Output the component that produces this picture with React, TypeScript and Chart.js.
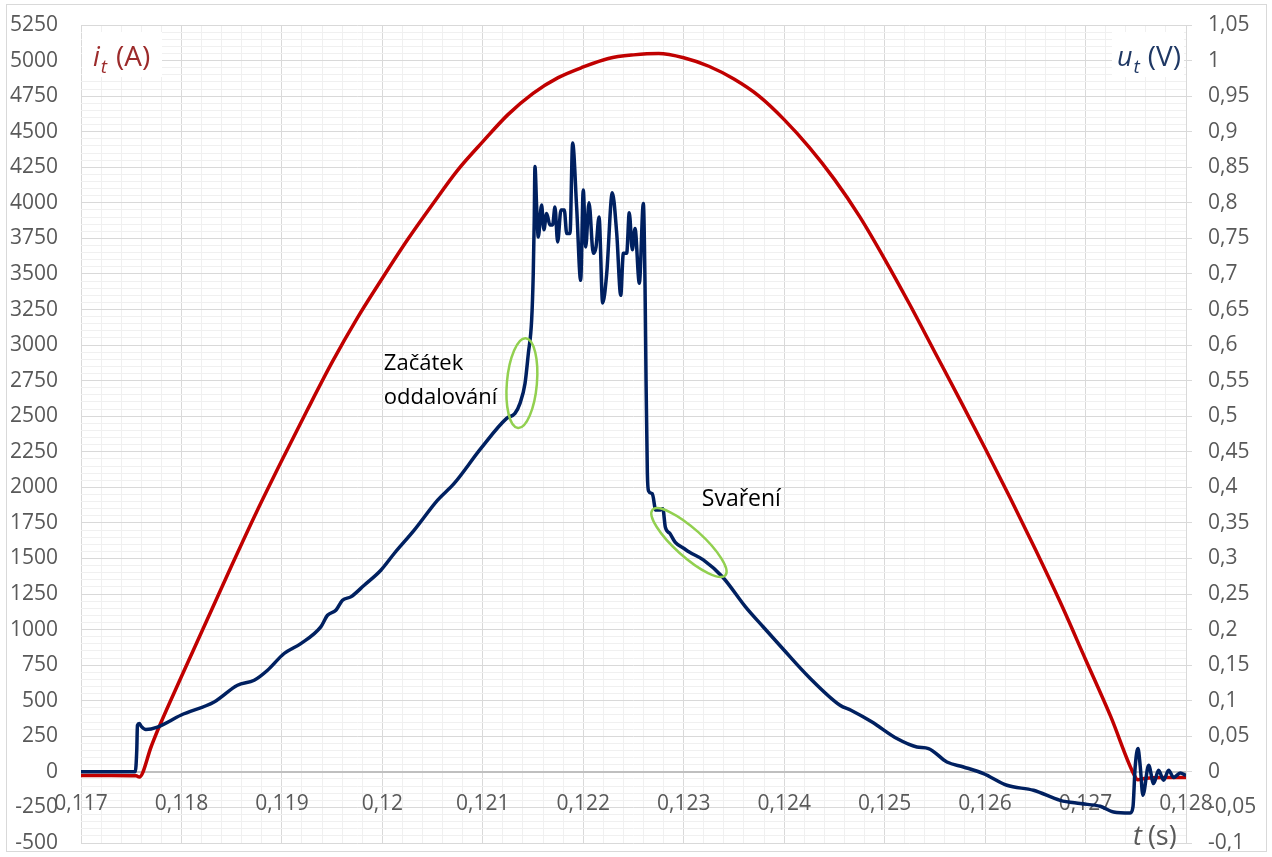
import React, { useEffect, useRef } from "react";
import { Chart, registerables } from "chart.js";

Chart.register(...registerables);

// ---- DATA ----
// Current i_t (A), left axis
const tCurrent = [
  0.117, 0.1173, 0.11755, 0.11758, 0.1177, 0.11775, 0.118, 0.11825, 0.1185, 0.11875,
  0.119, 0.11925, 0.1195, 0.11975, 0.12, 0.12025, 0.1205, 0.12075, 0.121, 0.12125,
  0.1215, 0.12175, 0.122, 0.12225, 0.1225, 0.12275, 0.123, 0.12325, 0.1235, 0.12375,
  0.124, 0.12425, 0.1245, 0.12475, 0.125, 0.12525, 0.1255, 0.12575, 0.126, 0.12625,
  0.1265, 0.12675, 0.127, 0.12725, 0.12749, 0.12752, 0.1276, 0.1278, 0.128,
];
const iCurrent = [
  -25, -25, -28, -36, 180, 270, 670, 1060, 1450, 1830,
  2190, 2540, 2880, 3190, 3470, 3740, 3990, 4230, 4430, 4620,
  4770, 4880, 4955, 5015, 5040, 5050, 5020, 4960, 4870, 4750,
  4585, 4390, 4165, 3905, 3605, 3285, 2950, 2615, 2275, 1925,
  1565, 1190, 790, 390, -30, -55, -45, -40, -40,
];

// Voltage u_t (V), right axis
const tVoltage = [
  0.117, 0.11754, 0.117555, 0.117562, 0.11758, 0.1176, 0.117645, 0.117761, 0.117993, 0.118325,
  0.118558, 0.118724, 0.118857, 0.119022, 0.119188, 0.119387, 0.119454, 0.119537, 0.119603, 0.119686,
  0.119819, 0.119985, 0.120118, 0.120317, 0.12055, 0.120715, 0.120981, 0.121237, 0.12132, 0.12137,
  0.12142, 0.121453, 0.121486, 0.121502, 0.121512, 0.121519, 0.121536, 0.121552, 0.121585, 0.121608,
  0.121635, 0.121668, 0.121695, 0.121718, 0.121745, 0.121778, 0.121811, 0.121835, 0.121868, 0.121894,
  0.121934, 0.121974, 0.122, 0.122024, 0.122057, 0.1221, 0.122127, 0.122157, 0.122193, 0.122233,
  0.122289, 0.122333, 0.122373, 0.122399, 0.122432, 0.122458, 0.122488, 0.122515, 0.122558, 0.122598,
  0.122615, 0.122625, 0.122638, 0.12265, 0.122687, 0.122722, 0.122757, 0.122792, 0.122817, 0.122863,
  0.122914, 0.123003, 0.123055, 0.123195, 0.123387, 0.123615, 0.12379, 0.124, 0.124245, 0.124556,
  0.124665, 0.124875, 0.125122, 0.125321, 0.125437, 0.12562, 0.125785, 0.125984, 0.126217, 0.126482,
  0.126748, 0.126947, 0.127146, 0.127279, 0.127445, 0.127472, 0.127494, 0.127522, 0.127545, 0.127571,
  0.127628, 0.127678, 0.127727, 0.127777, 0.127827, 0.127877, 0.127943, 0.128,
];
const uVoltage = [
  0, 0, 0.03, 0.0655, 0.068, 0.064, 0.0595, 0.063, 0.0796, 0.0983,
  0.1218, 0.1288, 0.1429, 0.1664, 0.1804, 0.2038, 0.2202, 0.2273, 0.2413, 0.246,
  0.2624, 0.2835, 0.307, 0.3398, 0.382, 0.4055, 0.4547, 0.497, 0.504, 0.518,
  0.546, 0.588, 0.635, 0.7, 0.776, 0.851, 0.794, 0.752, 0.797, 0.762,
  0.785, 0.769, 0.769, 0.794, 0.745, 0.79, 0.79, 0.757, 0.757, 0.884,
  0.794, 0.691, 0.818, 0.738, 0.8, 0.729, 0.738, 0.78, 0.659, 0.7,
  0.814, 0.757, 0.67, 0.729, 0.729, 0.786, 0.734, 0.764, 0.687, 0.799,
  0.682, 0.55, 0.42, 0.395, 0.391, 0.368, 0.368, 0.37, 0.344, 0.335,
  0.323, 0.314, 0.309, 0.298, 0.274, 0.232, 0.204, 0.171, 0.1335, 0.0937,
  0.0866, 0.07, 0.0468, 0.035, 0.0328, 0.0139, 0.0069, -0.0024, -0.0188, -0.0259,
  -0.04, -0.0446, -0.0484, -0.0564, -0.0578, -0.0494, 0.0069, 0.0328, 0.007, -0.0329,
  0.0093, -0.0165, 0.0023, -0.0118, 0.0023, -0.008, -0.0015, -0.005,
];

// X tick labels (drawn at the zero line, Czech decimal comma)
const xTickValues = [0.117, 0.118, 0.119, 0.12, 0.121, 0.122, 0.123, 0.124, 0.125, 0.126, 0.127, 0.128];
const xTickLabels = ["0,117", "0,118", "0,119", "0,12", "0,121", "0,122", "0,123", "0,124", "0,125", "0,126", "0,127", "0,128"];

// Annotations
const noteStart = ["Začátek", "oddalování"];
const noteWeld = "Svaření";

const FONT = '"Open Sans", "Noto Sans", sans-serif';
const GRAY = "#595959";

const overlay = {
  id: "overlay",
  beforeDatasetsDraw(chart: any) {
    const { ctx, chartArea, scales } = chart;
    const xs = scales.x;
    const yL = scales.yL;
    ctx.save();
    // x labels at zero line
    ctx.font = `21px ${FONT}`;
    ctx.fillStyle = GRAY;
    ctx.textAlign = "center";
    ctx.textBaseline = "middle";
    const y0 = yL.getPixelForValue(0);
    xTickValues.forEach((v, i) => {
      ctx.fillText(xTickLabels[i], xs.getPixelForValue(v), y0 + 32);
    });

    // i_t (A) label with white background
    const L = chartArea.left;
    const T = chartArea.top;
    ctx.fillStyle = "#ffffff";
    ctx.fillRect(L + 1, T + 7, 80, 45);
    ctx.fillStyle = "#9c2b2b";
    ctx.textAlign = "left";
    ctx.textBaseline = "alphabetic";
    let px = L + 12;
    ctx.font = `italic 27px ${FONT}`;
    ctx.fillText("i", px, T + 41);
    px += ctx.measureText("i").width + 1;
    ctx.font = `italic 19px ${FONT}`;
    ctx.fillText("t", px, T + 48);
    px += ctx.measureText("t").width + 9;
    ctx.font = `28px ${FONT}`;
    ctx.fillText("(A)", px, T + 41);

    // u_t (V) label, right aligned
    const R = chartArea.right;
    ctx.font = `28px ${FONT}`;
    const wV = ctx.measureText("(V)").width;
    ctx.font = `italic 19px ${FONT}`;
    const wt = ctx.measureText("t").width;
    ctx.font = `italic 27px ${FONT}`;
    const wu = ctx.measureText("u").width;
    const totalW = wu + 1 + wt + 8 + wV;
    ctx.fillStyle = "#ffffff";
    ctx.fillRect(R - totalW - 10, T + 7, totalW + 8, 45);
    ctx.fillStyle = "#1f3864";
    let qx = R - 5 - totalW;
    ctx.fillText("u", qx, T + 41);
    qx += wu + 1;
    ctx.font = `italic 19px ${FONT}`;
    ctx.fillText("t", qx, T + 48);
    qx += wt + 8;
    ctx.font = `28px ${FONT}`;
    ctx.fillText("(V)", qx, T + 41);
    ctx.restore();
  },
  afterDraw(chart: any) {
    const { ctx, chartArea, scales, width, height } = chart;
    const xs = scales.x;
    const yL = scales.yL;
    ctx.save();
    // outer border
    ctx.strokeStyle = "#d9d9d9";
    ctx.lineWidth = 1;
    ctx.strokeRect(6.5, 4.5, width - 12, height - 10);

    // axis title t (s)
    ctx.fillStyle = GRAY;
    ctx.textBaseline = "alphabetic";
    ctx.textAlign = "left";
    let tx = chartArea.right - 53;
    const ty = chartArea.bottom + 2;
    ctx.font = `italic 27px ${FONT}`;
    ctx.fillText("t", tx, ty);
    tx += ctx.measureText("t").width + 6;
    ctx.font = `27px ${FONT}`;
    ctx.fillText("(s)", tx, ty);

    // annotations
    ctx.fillStyle = "#000000";
    ctx.font = `22px ${FONT}`;
    const ax = xs.getPixelForValue(0.120015);
    ctx.textBaseline = "middle";
    ctx.fillText(noteStart[0], ax, yL.getPixelForValue(2870));
    ctx.fillText(noteStart[1], ax, yL.getPixelForValue(2630));
    ctx.font = `23px ${FONT}`;
    ctx.fillText(noteWeld, xs.getPixelForValue(0.12318), yL.getPixelForValue(1915));

    // green ellipses
    ctx.strokeStyle = "#92d050";
    ctx.lineWidth = 2.5;
    ctx.beginPath();
    ctx.ellipse(xs.getPixelForValue(0.121389), yL.getPixelForValue(2733), 15, 45, (5 * Math.PI) / 180, 0, Math.PI * 2);
    ctx.stroke();
    ctx.beginPath();
    ctx.ellipse(xs.getPixelForValue(0.123052), yL.getPixelForValue(1612), 49, 14, (42 * Math.PI) / 180, 0, Math.PI * 2);
    ctx.stroke();
    ctx.restore();
  },
};

const isMultiple = (v: number, step: number) => Math.abs(v / step - Math.round(v / step)) < 1e-6;
const noPad = (s: any) => {
  s.paddingTop = 0;
  s.paddingBottom = 0;
};

export default function App() {
  const ref = useRef<HTMLCanvasElement | null>(null);
  useEffect(() => {
    if (!ref.current) return;
    const chart = new Chart(ref.current, {
      type: "line",
      data: {
        datasets: [
          {
            label: "u_t",
            data: tVoltage.map((t, i) => ({ x: t, y: uVoltage[i] })),
            yAxisID: "yR",
            borderColor: "#002060",
            borderWidth: 3.5,
            pointRadius: 0,
            cubicInterpolationMode: "monotone",
          } as any,
          {
            label: "i_t",
            data: tCurrent.map((t, i) => ({ x: t, y: iCurrent[i] })),
            yAxisID: "yL",
            borderColor: "#c00000",
            borderWidth: 3.5,
            pointRadius: 0,
            cubicInterpolationMode: "monotone",
          } as any,
        ],
      },
      options: {
        animation: false,
        responsive: false,
        devicePixelRatio: 1,
        layout: { padding: { top: 25, bottom: 14, left: 0, right: 0 } },
        plugins: { legend: { display: false }, tooltip: { enabled: false } },
        scales: {
          x: {
            type: "linear",
            min: 0.117,
            max: 0.128,
            ticks: { display: false, stepSize: 0.0002, autoSkip: false },
            grid: {
              drawTicks: false,
              color: (c: any) => (isMultiple(c.tick.value, 0.001) ? "#d9d9d9" : "#f0f0f0"),
            },
            border: { display: false },
            afterFit: (s: any) => {
              s.height = 0;
              s.paddingLeft = 0;
              s.paddingRight = 0;
            },
          },
          yL: {
            type: "linear",
            position: "left",
            min: -500,
            max: 5250,
            ticks: {
              stepSize: 50,
              autoSkip: false,
              padding: 23,
              color: GRAY,
              font: { family: FONT, size: 21 },
              callback: (v: any) => (Math.round(v) % 250 === 0 ? String(Math.round(v)) : ""),
            },
            grid: {
              drawTicks: false,
              color: (c: any) => {
                const v = Math.round(c.tick.value);
                if (v === 0) return "#bfbfbf";
                return v % 250 === 0 ? "#d9d9d9" : "#f0f0f0";
              },
              lineWidth: (c: any) => (Math.round(c.tick.value) === 0 ? 2 : 1),
            },
            border: { display: false },
            afterFit: (s: any) => {
              s.width = 81;
              noPad(s);
            },
          },
          yR: {
            type: "linear",
            position: "right",
            min: -0.1,
            max: 1.05,
            ticks: {
              stepSize: 0.05,
              autoSkip: false,
              padding: 16,
              color: GRAY,
              font: { family: FONT, size: 21 },
              callback: (v: any) => String(Math.round(v * 100) / 100).replace(".", ","),
            },
            grid: { drawOnChartArea: false, drawTicks: true, tickLength: 6, color: "#d9d9d9" },
            border: { display: true, color: "#d9d9d9" },
            afterFit: (s: any) => {
              s.width = 86;
              noPad(s);
            },
          },
        },
      },
      plugins: [overlay],
    });
    return () => chart.destroy();
  }, []);
  return (
    <div style={{ position: "absolute", left: 0, top: 0, width: 1272, height: 857, background: "#fff" }}>
      <canvas ref={ref} width={1272} height={857} style={{ display: "block" }} />
    </div>
  );
}
